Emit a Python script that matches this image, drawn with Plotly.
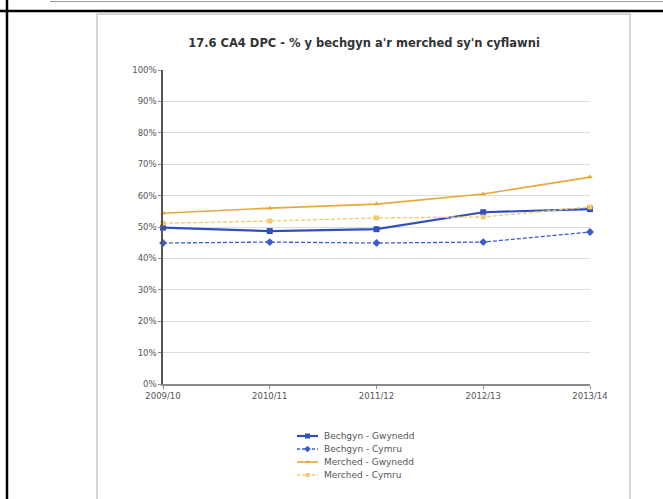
import plotly.graph_objects as go

# Years and percentage series
years = ["2009/10", "2010/11", "2011/12", "2012/13", "2013/14"]
bechgyn_gwynedd = [49.8, 48.7, 49.3, 54.7, 55.7]
bechgyn_cymru = [44.9, 45.2, 44.9, 45.2, 48.4]
merched_gwynedd = [54.4, 56.0, 57.3, 60.5, 65.9]
merched_cymru = [51.2, 51.9, 52.9, 53.2, 56.4]

y_ticks = list(range(0, 101, 10))
y_labels = [f"{v}%" for v in y_ticks]

W, H = 663, 499
FONT = "DejaVu Sans, Verdana, sans-serif"


def px(x):
    return x / W


def py(y):
    return 1 - y / H


series = [
    ("Bechgyn - Gwynedd", bechgyn_gwynedd, "#2f4fc0", "solid", "square", 2.2, 6),
    ("Bechgyn - Cymru", bechgyn_cymru, "#3a5bd0", "4px,2px", "diamond", 1.3, 6),
    ("Merched - Gwynedd", merched_gwynedd, "#e8a83a", "solid", "triangle-up", 1.6, 5),
    ("Merched - Cymru", merched_cymru, "#f2c86a", "4px,2px", "square", 1.3, 5),
]

fig = go.Figure()
xpos = list(range(len(years)))
for name, vals, color, dash, sym, lw, ms in series:
    fig.add_trace(go.Scatter(
        x=xpos, y=vals, name=name, mode="lines+markers",
        line=dict(color=color, width=lw, dash=dash),
        marker=dict(symbol=sym, size=ms, color=color),
        cliponaxis=False, showlegend=False,
    ))

# Legend drawn on a transparent pixel-space overlay axis
leg_rows = [436, 449, 462, 475]
annotations = []
for (name, vals, color, dash, sym, lw, ms), ry in zip(series, leg_rows):
    fig.add_trace(go.Scatter(
        x=[297, 318], y=[ry, ry], xaxis="x2", yaxis="y2", mode="lines",
        line=dict(color=color, width=lw, dash="3px,2px" if dash != "solid" else "solid"),
        showlegend=False, hoverinfo="skip",
    ))
    fig.add_trace(go.Scatter(
        x=[307.5], y=[ry], xaxis="x2", yaxis="y2", mode="markers",
        marker=dict(symbol=sym, size=ms - 1, color=color),
        showlegend=False, hoverinfo="skip",
    ))
    annotations.append(dict(
        x=px(322), y=py(ry), xref="paper", yref="paper", text=name,
        xanchor="left", yanchor="middle", showarrow=False,
        font=dict(size=9, color="#555", family=FONT),
    ))

shapes = [
    # page frame around the chart cell
    dict(type="line", xref="paper", yref="paper", x0=px(50), x1=1, y0=py(1.5), y1=py(1.5),
         line=dict(color="#9a9a9a", width=1)),
    dict(type="line", xref="paper", yref="paper", x0=0, x1=1, y0=py(11), y1=py(11),
         line=dict(color="#000000", width=2.5)),
    dict(type="line", xref="paper", yref="paper", x0=px(7), x1=px(7), y0=0, y1=1,
         line=dict(color="#000000", width=2.5)),
    # chart border
    dict(type="rect", xref="paper", yref="paper", x0=px(97), x1=px(630), y0=py(14), y1=-0.02,
         line=dict(color="#c8c8c8", width=1.5), layer="below"),
]

fig.update_layout(
    width=W, height=H,
    margin=dict(l=0, r=0, t=0, b=0, autoexpand=False),
    paper_bgcolor="white", plot_bgcolor="rgba(0,0,0,0)",
    font=dict(family=FONT, color="#444", size=8.5),
    title=dict(text="<b>17.6 CA4 DPC - % y bechgyn a'r merched sy'n cyflawni</b>",
               x=364 / W, xanchor="center", y=py(43), yanchor="middle",
               font=dict(size=11.5, color="#333", family=FONT)),
    xaxis=dict(domain=[px(163), px(590)], range=[0, 4],
               tickmode="array", tickvals=xpos, ticktext=years,
               showgrid=False, showline=True, linecolor="#8a8a8a", linewidth=1.5,
               ticks="outside", ticklen=3, tickcolor="#8a8a8a",
               tickfont=dict(size=8.5, color="#555"), zeroline=False, automargin=False),
    yaxis=dict(domain=[py(384), py(70)], range=[0, 100],
               tickmode="array", tickvals=y_ticks, ticktext=y_labels,
               showgrid=True, gridcolor="#dcdcdc", gridwidth=1,
               showline=True, linecolor="#555", linewidth=1.5,
               ticks="outside", ticklen=3, tickcolor="#888",
               tickfont=dict(size=8.5, color="#555"), zeroline=False, automargin=False),
    xaxis2=dict(domain=[0, 1], range=[0, W], visible=False, fixedrange=True,
                anchor="y2"),
    yaxis2=dict(domain=[0, 1], range=[H, 0], visible=False, fixedrange=True,
                anchor="x2"),
    annotations=annotations,
    shapes=shapes,
)

fig.write_html("out.html")
